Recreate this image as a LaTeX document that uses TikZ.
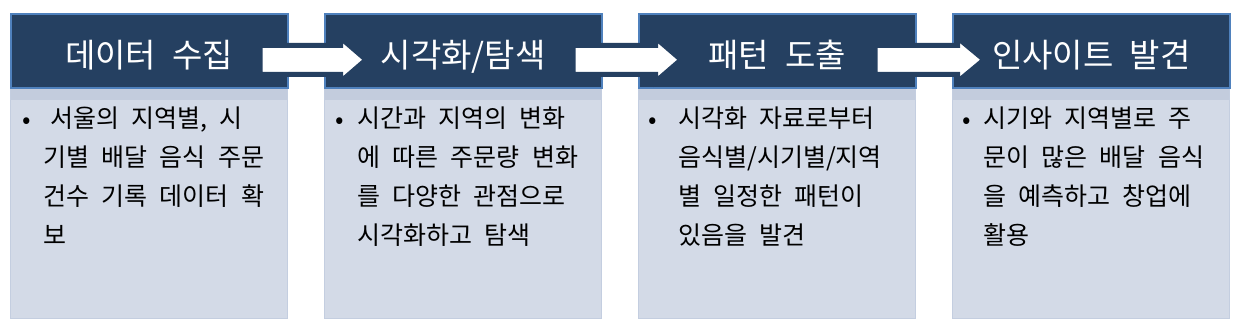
\documentclass[tikz,border=0pt]{standalone}
\usepackage{fontspec}
\setmainfont[WordSpace=2.2]{Noto Sans CJK KR}
\usetikzlibrary{positioning, calc}
\definecolor{HeadNavy}{RGB}{37,64,97}
\definecolor{HeadEdge}{RGB}{79,129,189}
\definecolor{BodyFill}{RGB}{211,218,231}
\definecolor{BandFill}{RGB}{195,204,221}
\definecolor{BodyEdge}{RGB}{196,206,224}
\tikzset{
  headbox/.style={draw=HeadEdge, line width=1.5bp, fill=HeadNavy, text=white, minimum width=277bp,
    minimum height=74bp, inner sep=0pt, anchor=north west, text height=37bp, text depth=3bp,
    font=\fontsize{33bp}{38bp}\selectfont},
  bodybox/.style={draw=BodyEdge, line width=1bp, fill=BodyFill, minimum width=277bp,
    minimum height=231bp, inner sep=0pt, anchor=north west},
  shadeband/.style={fill=BandFill, minimum width=276bp, minimum height=12bp, inner sep=0pt, anchor=north west},
  bodytxt/.style={anchor=north west, align=left, inner sep=0pt, font=\fontsize{25bp}{39bp}\selectfont},
  bulletdot/.style={anchor=base, inner sep=0pt, font=\fontsize{25bp}{39bp}\selectfont},
  flowarr/.style={fill=white, draw=HeadNavy, line width=5bp},
}

\begin{document}
\begin{tikzpicture}[x=1bp, y=-1bp]
  \useasboundingbox (0,0) rectangle (1235,331);
  % four stage boxes
  \foreach \i/\x/\ttl in {1/10/데이터 수집, 2/324/{시각화/탐색}, 3/638/패턴 도출, 4/952/인사이트 발견} {
    \node[bodybox] (b\i) at (\x,87) {};
    \node[shadeband] (s\i) at (\x+0.5,87.5) {};
    \node[headbox] (h\i) at (\x,13) {\ttl};
  }
  % block arrows between headers
  \foreach \a/\b/\s/\bs/\t in {1/2/-28.5/16.5/42, 2/3/-29.5/17.5/43, 3/4/-41.5/5.5/32} {
    \coordinate (as\a) at ($(h\a.east)+(\s,9)$);
    \coordinate (ab\a) at ($(h\b.west)+(\bs,9)$);
    \coordinate (at\a) at ($(h\b.west)+(\t,9)$);
    \draw[flowarr] ($(as\a)+(0,-14.5)$) -- ($(ab\a)+(0,-14.5)$) -- ($(ab\a)+(0,-22)$) -- (at\a)
      -- ($(ab\a)+(0,22)$) -- ($(ab\a)+(0,14.5)$) -- ($(as\a)+(0,14.5)$) -- cycle;
  }
  % bullet texts
  \node[bulletdot] (d1) at (27,128) {•};
  \node[bodytxt] (t1) at (43,107) {\hspace*{7bp}서울의 지역별, 시\\기별 배달 음식 주문\\건수 기록 데이터 확\\보};
  \node[bulletdot] (d2) at (340,128) {•};
  \node[bodytxt] (t2) at (357,107) {시간과 지역의 변화\\에 따른 주문량 변화\\를 다양한 관점으로\\시각화하고 탐색};
  \node[bulletdot] (d3) at (653,128) {•};
  \node[bodytxt] (t3) at (678,107) {시각화 자료로부터\\음식별/시기별/지역\\별 일정한 패턴이\\있음을 발견};
  \node[bulletdot] (d4) at (967,128) {•};
  \node[bodytxt] (t4) at (983,107) {시기와 지역별로 주\\문이 많은 배달 음식\\을 예측하고 창업에\\활용};
\end{tikzpicture}
\end{document}
